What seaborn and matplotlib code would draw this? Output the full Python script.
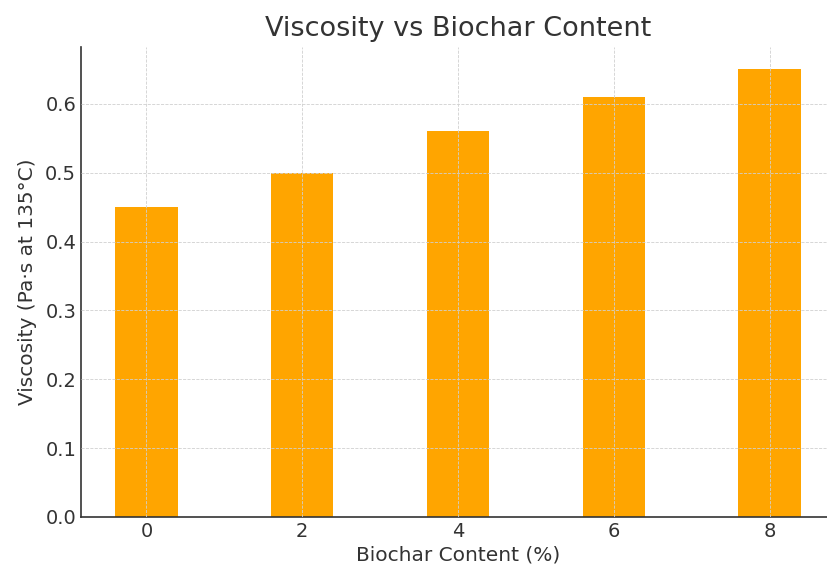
import matplotlib
matplotlib.use("Agg")
import matplotlib.pyplot as plt
import seaborn as sns

# data
biochar_content = [0, 2, 4, 6, 8]
viscosity = [0.45, 0.50, 0.56, 0.61, 0.65]

sns.set_style("white")
plt.rcParams['font.family'] = ['DejaVu Sans']
text_color = "#333333"

fig = plt.figure(figsize=(8.28, 5.70), dpi=100)
ax = fig.add_axes([81 / 828, 53 / 570, 754 / 828, 470 / 570])

sns.barplot(x=biochar_content, y=viscosity, native_scale=True, width=0.4,
            color="#FFA500", saturation=1, linewidth=0, ax=ax)

ax.set_xlim(-0.84, 8.84)
ax.set_ylim(0, 0.6825)
ax.set_xticks(biochar_content)
ax.set_yticks([0.0, 0.1, 0.2, 0.3, 0.4, 0.5, 0.6])

ax.grid(True, linestyle="--", linewidth=0.6, color="#d0d0d0")
ax.set_axisbelow(False)

for side in ["top", "right"]:
    ax.spines[side].set_visible(False)
for side in ["left", "bottom"]:
    ax.spines[side].set_color("#333333")
    ax.spines[side].set_linewidth(1.2)

ax.tick_params(direction="in", length=5, width=1, colors=text_color, labelsize=14)
ax.set_title("Viscosity vs Biochar Content", fontsize=19.5, color=text_color, pad=8)
ax.set_xlabel("Biochar Content (%)", fontsize=14.5, color=text_color, labelpad=3)
ax.set_ylabel("Viscosity (Pa·s at 135°C)", fontsize=14.5, color=text_color, labelpad=6)

fig.savefig("out.png", dpi=100)
plt.close(fig)
